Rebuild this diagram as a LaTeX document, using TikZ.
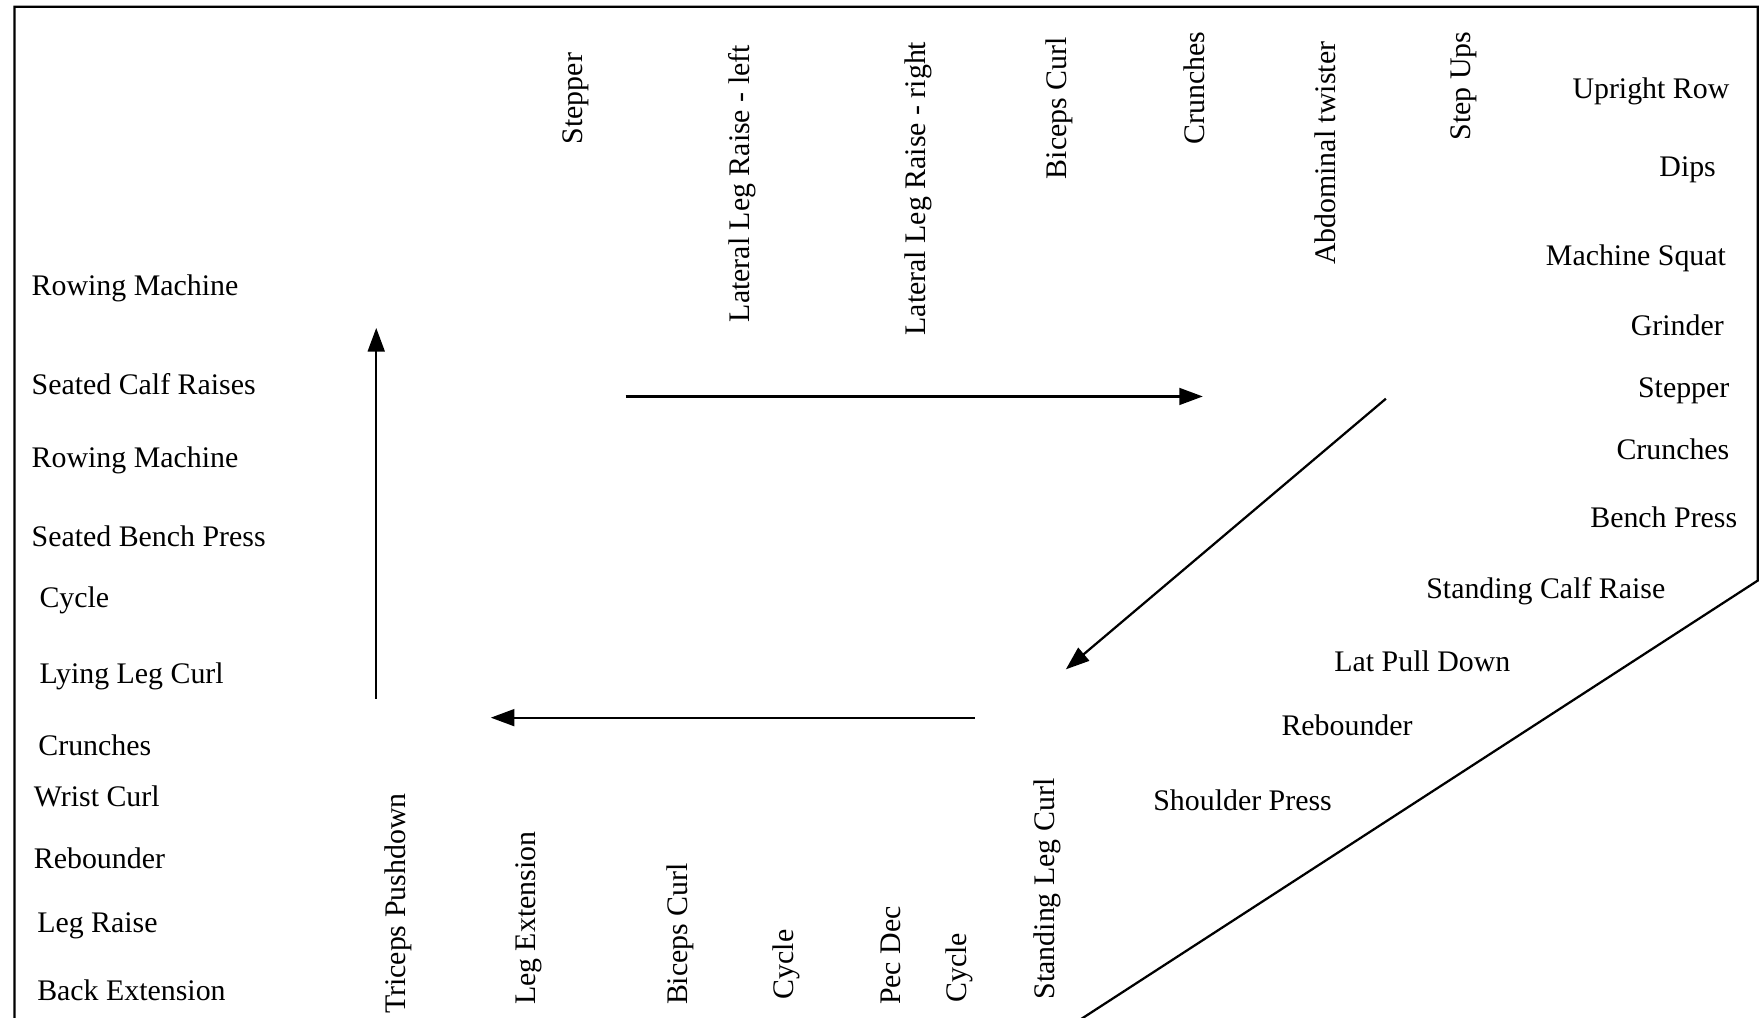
\documentclass[tikz,border=0pt]{standalone}
\usepackage{fontspec}
\setmainfont{Liberation Serif}
\usetikzlibrary{arrows.meta}
\tikzset{
  lbl/.style={inner sep=0pt, font=\fontsize{26.6bp}{32bp}\selectfont},
  lleft/.style={lbl, anchor=base west},
  lright/.style={lbl, anchor=base east},
  vtop/.style={lbl, rotate=90, anchor=east},
  vbot/.style={lbl, rotate=90, anchor=west},
  flow/.style={line width=2bp, -{Triangle[length=21bp,width=15bp]}},
  frame/.style={line width=2bp}
}
\begin{document}
\begin{tikzpicture}[x=1bp,y=-1bp]
\useasboundingbox (0,0) rectangle (1568,906);
\fill[white] (0,0) rectangle (1568,906);
\begin{scope}
\clip (0,0) rectangle (1568,906);
\draw[frame] (13,920) -- (13,6) -- (1565,6) -- (1565,517) -- (940,922);
\end{scope}
% top vertical labels
\node[vtop] (t1) at (513,47) {Stepper};
\node[vtop] (t2) at (661,40) {Lateral Leg Raise - left};
\node[vtop] (t3) at (818,37) {Lateral Leg Raise - right};
\node[vtop] (t4) at (943,33) {Biceps Curl};
\node[vtop] (t5) at (1063,28) {Crunches};
\node[vtop] (t6) at (1180,37) {Abdominal twister};
\node[vtop] (t7) at (1303,28) {Step Ups};
% bottom vertical labels
\node[vbot] (b1) at (355,903) {Triceps Pushdown};
\node[vbot] (b2) at (471,895) {Leg Extension};
\node[vbot] (b3) at (606,895) {Biceps Curl};
\node[vbot] (b4) at (700,890) {Cycle};
\node[vbot] (b5) at (793,895) {Pec Dec};
\node[vbot] (b6) at (854,893) {Cycle};
\node[vbot] (b7) at (933,890) {Standing Leg Curl};
% left column
\node[lleft] (l1) at (28,263) {Rowing Machine};
\node[lleft] (l2) at (28,351) {Seated Calf Raises};
\node[lleft] (l3) at (28,416) {Rowing Machine};
\node[lleft] (l4) at (28,487) {Seated Bench Press};
\node[lleft] (l5) at (35,541) {Cycle};
\node[lleft] (l6) at (35,609) {Lying Leg Curl};
\node[lleft] (l7) at (34,673) {Crunches};
\node[lleft] (l8) at (30,718) {Wrist Curl};
\node[lleft] (l9) at (30,773) {Rebounder};
\node[lleft] (l10) at (33,830) {Leg Raise};
\node[lleft] (l11) at (33,891) {Back Extension};
% right column
\node[lright] (r1) at (1540,88) {Upright Row};
\node[lright] (r2) at (1528,157) {Dips};
\node[lright] (r3) at (1537,236) {Machine Squat};
\node[lright] (r4) at (1535,299) {Grinder};
\node[lright] (r5) at (1540,354) {Stepper};
\node[lright] (r6) at (1540,409) {Crunches};
\node[lright] (r7) at (1547,470) {Bench Press};
\node[lright] (r8) at (1483,533) {Standing Calf Raise};
\node[lright] (r9) at (1345,598) {Lat Pull Down};
\node[lright] (r10) at (1258,655) {Rebounder};
\node[lright] (r11) at (1186,722) {Shoulder Press};
% arrows
\coordinate (u1) at (335,622);
\coordinate (u2) at (335,292);
\coordinate (h1) at (557,353);
\coordinate (h2) at (1071,353);
\coordinate (d1) at (1234,355);
\coordinate (d2) at (949,596);
\coordinate (g1) at (868,639);
\coordinate (g2) at (437,639);
\draw[flow] (u1) -- (u2);
\draw[flow] (h1) -- (h2);
\draw[flow] (d1) -- (d2);
\draw[flow] (g1) -- (g2);
\end{tikzpicture}
\end{document}
